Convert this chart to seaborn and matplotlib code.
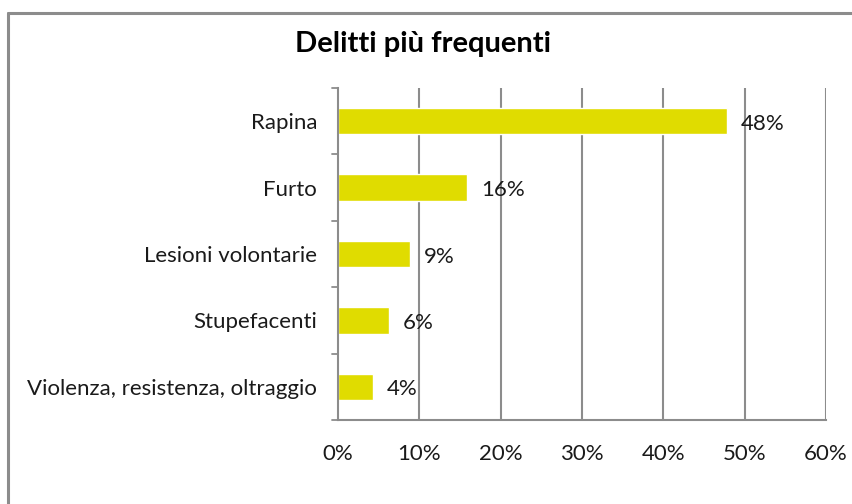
import matplotlib
matplotlib.use("Agg")
import matplotlib.pyplot as plt
import seaborn as sns
import pandas as pd

categorie = ["Rapina", "Furto", "Lesioni volontarie", "Stupefacenti",
             "Violenza, resistenza, oltraggio"]
valori = [47.8, 15.9, 8.9, 6.3, 4.3]
etichette = ["48%", "16%", "9%", "6%", "4%"]
ticks_x = [0, 10, 20, 30, 40, 50, 60]
tick_labels = ["0%", "10%", "20%", "30%", "40%", "50%", "60%"]

sns.set_style("white")
plt.rcParams["font.family"] = ["Lato", "DejaVu Sans"]

df = pd.DataFrame({"categoria": categorie, "valore": valori})

fig = plt.figure(figsize=(8.52, 5.04), dpi=100)
ax = fig.add_axes([0.3967, 0.1667, 0.5728, 0.6587])

sns.barplot(data=df, y="categoria", x="valore", color="#E0DC00",
            saturation=1, width=0.4, ax=ax)

fs = 16
ax.set_xlim(0, 60)
ax.set_ylim(4.5, -0.5)
ax.set_xticks(ticks_x)
ax.set_xticklabels(tick_labels, fontsize=fs, color="#1a1a1a")
ax.tick_params(axis="y", labelsize=fs, labelcolor="#1a1a1a", length=0, pad=15)
ax.tick_params(axis="x", length=5, color="#8c8c8c", width=1.3, pad=12, direction="out")
ax.set_xlabel("")
ax.set_ylabel("")

for x in ticks_x[1:]:
    ax.axvline(x, color="#8c8c8c", lw=1.5, zorder=0)

for s in ["top", "right"]:
    ax.spines[s].set_visible(False)
for s in ["left", "bottom"]:
    ax.spines[s].set_color("#8c8c8c")
    ax.spines[s].set_linewidth(1.5)

# small category separator ticks on the left axis
for b in [-0.5, 0.5, 1.5, 2.5, 3.5, 4.5]:
    ax.plot([-0.75, 0], [b, b], color="#8c8c8c", lw=1.3, clip_on=False)

for i, (v, lab) in enumerate(zip(valori, etichette)):
    ax.text(v + 1.7, i + 0.04, lab, va="center", ha="left", fontsize=fs, color="#1a1a1a")

fig.text(0.496, 0.912, "Delitti più frequenti", ha="center", va="center",
         fontsize=21, fontweight="bold", color="black")

# chart border (left and top edges visible)
fig.add_artist(plt.Line2D([8 / 852, 8 / 852], [0, 1 - 13 / 504], color="#8c8c8c", lw=2.2))
fig.add_artist(plt.Line2D([8 / 852, 1], [1 - 13 / 504, 1 - 13 / 504], color="#8c8c8c", lw=2.2))

fig.savefig("out.png", dpi=100)
